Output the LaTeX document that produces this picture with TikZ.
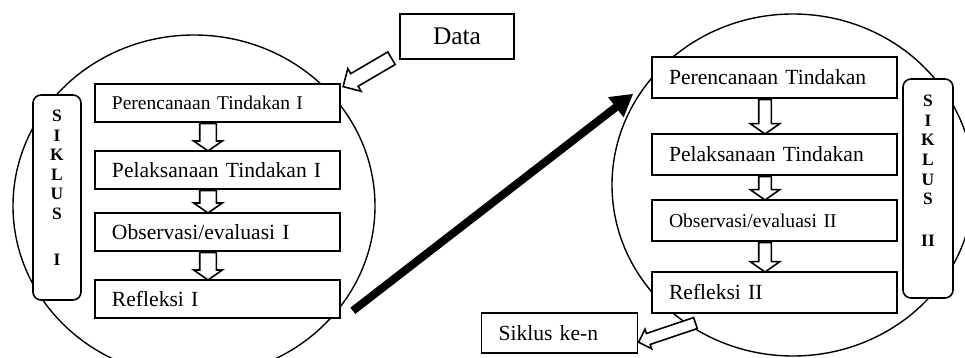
\documentclass[tikz,border=0pt]{standalone}
\usepackage{fontspec}
\setmainfont{Liberation Serif}
\usetikzlibrary{arrows.meta, shapes.geometric, shapes.arrows, calc}

\begin{document}
\begin{tikzpicture}[
  x=0.5pt, y=-0.5pt,
  % Node Styles
  cyclering/.style={ellipse, draw, line width=0.7pt, minimum width=181pt, minimum height=171pt, inner sep=0pt},
  stepbox/.style={rectangle, draw, thick, fill=white, text width=105.5pt, minimum height=19pt, inner xsep=8.5pt, inner ysep=0pt, align=left},
  sideband/.style={rectangle, rounded corners=4pt, draw, thick, fill=white, minimum width=24pt},
  sidetext/.style={align=center, font=\fontsize{8.7}{9.8}\selectfont\bfseries},
  databox/.style={rectangle, draw, thick, fill=white, minimum width=57pt, minimum height=22.5pt, font=\fontsize{12.7}{15}\selectfont},
  % Arrow Styles
  blockarrow/.style={single arrow, draw, thick, fill=white, inner xsep=0pt, inner ysep=3.75pt, anchor=tail, single arrow tip angle=110, single arrow head extend=3pt},
  slimarrow/.style={inner ysep=#1, single arrow tip angle=90, single arrow head extend=0.9*#1},
  hollow/.style={to path={let \p1=($(\tikztotarget)-(\tikztostart)$), \n1={veclen(\x1,\y1)}, \n2={atan2(\y1,\x1)} in node[blockarrow, minimum height=\n1, rotate=\n2, #1] at (\tikztostart) {}}},
  hollow/.default={},
  bigarrow/.style={-{Triangle[length=11pt, width=12pt]}, line width=4pt}
]
\tikzset{font=\fontsize{10.8}{13}\selectfont}
\useasboundingbox (0,0) rectangle (965,358);

% Siklus I
\node[cyclering] (C1) at (194,206) {};
\node[sideband, minimum height=102.5pt] (S1) at (57,197.5) {};
\node[sidetext] (S1t) at (57,187.5) {S\\I\\K\\L\\U\\S\\[13pt]I};

\node[stepbox, font=\fontsize{9.75}{12}\selectfont] (L1) at (217.5,103) {Perencanaan Tindakan I};
\node[stepbox] (L2) at (217.5,170) {Pelaksanaan Tindakan I};
\node[stepbox] (L3) at (217.5,232) {Observasi/evaluasi I};
\node[stepbox] (L4) at (217.5,299) {Refleksi I};

% Siklus II
\node[cyclering] (C2) at (793,185) {};
\node[sideband, minimum width=25pt, minimum height=109.5pt] (S2) at (928,188.5) {};
\node[sidetext] (S2t) at (928,171) {S\\I\\K\\L\\U\\S\\[11.2pt]II};

\node[stepbox, minimum height=20.5pt] (R1) at (774.5,77.5) {Perencanaan Tindakan};
\node[stepbox, minimum height=20.5pt] (R2) at (774.5,154.5) {Pelaksanaan Tindakan};
\node[stepbox, minimum height=20.5pt, font=\fontsize{9.8}{12}\selectfont] (R3) at (774.5,220.5) {Observasi/evaluasi II};
\node[stepbox, minimum height=20.5pt] (R4) at (774.5,292.5) {Refleksi II};

% Data and next cycle
\node[databox] (D) at (457,36.5) {Data};
\node[stepbox, text width=61pt, minimum height=20pt] (K) at (559.5,333) {Siklus ke-n};

% Arrows
\path ([xshift=-4.75pt]L1.south) to[hollow] ([xshift=-4.75pt]L2.north);
\path ([xshift=-4.75pt]L2.south) to[hollow] ([xshift=-4.75pt]L3.north);
\path ([xshift=-4.75pt]L3.south) to[hollow] ([xshift=-4.75pt]L4.north);
\path ([xshift=-4.75pt]R1.south) to[hollow={inner ysep=2.75pt, single arrow head extend=4.25pt}] ([xshift=-4.75pt]R2.north);
\path ([xshift=-4.75pt]R2.south) to[hollow={inner ysep=2.75pt, single arrow head extend=4.25pt}] ([xshift=-4.75pt]R3.north);
\path ([xshift=-4.75pt]R3.south) to[hollow={inner ysep=2.75pt, single arrow head extend=4.25pt}] ([xshift=-4.75pt]R4.north);
\path ([xshift=-3.5pt,yshift=1pt]D.south west) to[hollow={slimarrow=3.25pt}] ([xshift=1.5pt,yshift=-1.5pt]L1.north east);
\path ([xshift=22.5pt,yshift=-4.5pt]R4.south west) to[hollow={slimarrow=2.5pt}] ([xshift=0.5pt,yshift=-4.5pt]K.east);
\draw[bigarrow] ([xshift=6pt,yshift=4pt]L4.south east) -- ([xshift=-9pt,yshift=2.5pt]R1.south west);

\end{tikzpicture}
\end{document}
